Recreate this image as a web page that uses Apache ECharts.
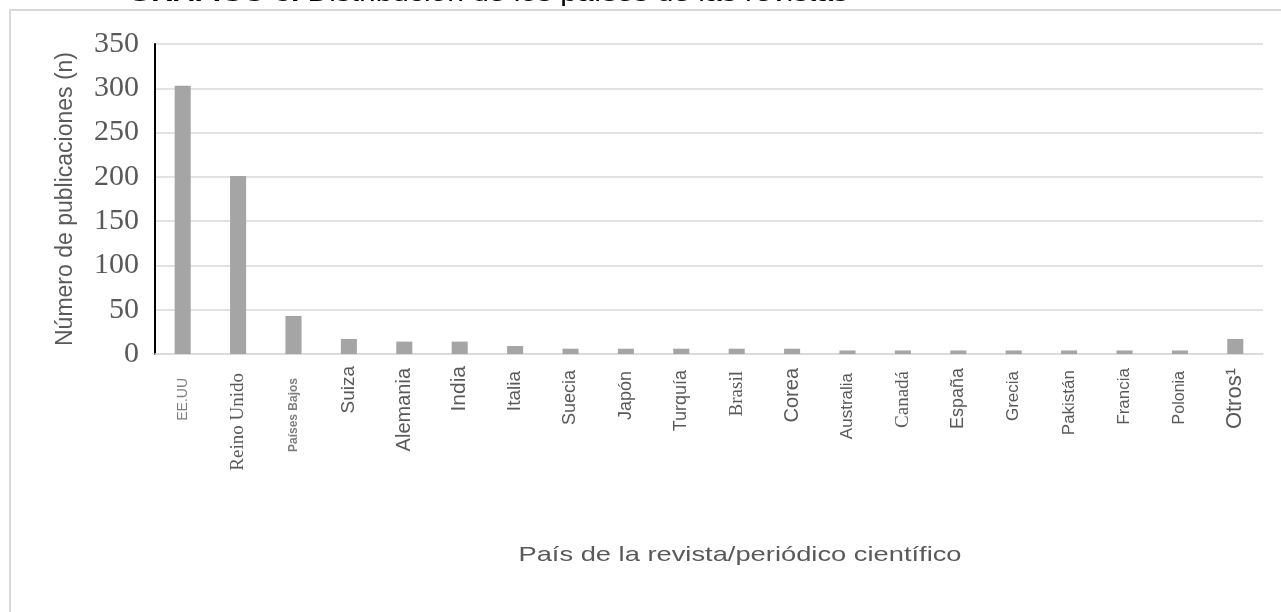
<!DOCTYPE html>
<html>
<head>
<meta charset="utf-8">
<script src="https://cdn.jsdelivr.net/npm/echarts@6/dist/echarts.min.js"></script>
<style>
html,body{margin:0;padding:0;background:#fff;}
#chart{width:1281px;height:612px;}
</style>
</head>
<body>
<div id="chart"></div>
<script>
const categories = ["EE.UU","Reino Unido","Países Bajos","Suiza","Alemania","India","Italia","Suecia","Japón","Turquía","Brasil","Corea","Australia","Canadá","España","Grecia","Pakistán","Francia","Polonia","Otros¹"];
const publicaciones = [303, 201, 43, 17, 14, 14, 9, 6, 6, 6, 6, 6, 4, 4, 4, 4, 4, 4, 4, 17];
const yTicks = [0, 50, 100, 150, 200, 250, 300, 350];
const titleText = "GRÁFICO 3.";
const titleRest = " Distribución de los países de las revistas";
const xAxisTitle = "País de la revista/periódico científico";
const yAxisTitle = "Número de publicaciones (n)";

const sans = "'Liberation Sans', Arial, sans-serif";
const serif = "'Liberation Serif', 'Times New Roman', serif";
// per-label styles [font, size, color, weight, extra gap]
const labelStyles = [
  [sans, 14, '#7f7f7f', 'normal', 12],
  [serif, 19, '#595959', 'normal', 7],
  [sans, 12, '#7f7f7f', 'bold', 12],
  [sans, 19, '#595959', 'normal', 0],
  [sans, 20, '#595959', 'normal', 2],
  [sans, 21, '#595959', 'normal', 0],
  [sans, 19, '#595959', 'normal', 5],
  [sans, 18, '#595959', 'normal', 4],
  [sans, 18, '#595959', 'normal', 5],
  [sans, 18, '#595959', 'normal', 4],
  [serif, 19, '#595959', 'normal', 5],
  [sans, 20, '#595959', 'normal', 2],
  [sans, 17, '#595959', 'normal', 7],
  [serif, 19, '#595959', 'normal', 5],
  [sans, 18, '#595959', 'normal', 2],
  [sans, 17, '#595959', 'normal', 5],
  [sans, 17, '#595959', 'normal', 4],
  [sans, 17, '#595959', 'normal', 2],
  [sans, 16, '#595959', 'normal', 5],
  [sans, 22, '#595959', 'normal', 2]
];
const rich = {};
labelStyles.forEach((s, i) => {
  rich['k' + i] = {fontFamily: s[0], fontSize: s[1], color: s[2], fontWeight: s[3], padding: [0, s[4], 0, 0]};
});

const chart = echarts.init(document.getElementById('chart'), null, {renderer: 'canvas'});
chart.setOption({
  animation: false,
  backgroundColor: '#ffffff',
  grid: {left: 155, right: 18, top: 44, bottom: 258, containLabel: false},
  xAxis: {
    type: 'category',
    data: categories,
    axisLine: {show: true, lineStyle: {color: '#d9d9d9', width: 1.5}},
    axisTick: {show: false},
    axisLabel: {
      interval: 0,
      rotate: 90,
      margin: 12,
      formatter: function (v, i) { return '{k' + i + '|' + v + '}'; },
      rich: rich
    }
  },
  yAxis: {
    type: 'value',
    min: yTicks[0],
    max: yTicks[yTicks.length - 1],
    interval: yTicks[1] - yTicks[0],
    name: yAxisTitle,
    nameLocation: 'middle',
    nameGap: 78,
    nameRotate: 90,
    nameTextStyle: {fontFamily: sans, fontSize: 23, color: '#595959'},
    axisLine: {show: true, lineStyle: {color: '#000000', width: 2}},
    axisTick: {show: false},
    axisLabel: {fontFamily: serif, fontSize: 30, color: '#595959', margin: 16},
    splitLine: {lineStyle: {color: '#d9d9d9', width: 1.5}}
  },
  series: [{
    type: 'bar',
    data: publicaciones,
    barWidth: '29%',
    itemStyle: {color: '#a5a5a5'}
  }],
  graphic: [
    {
      type: 'rect',
      shape: {x: 10, y: 10, width: 1400, height: 800},
      style: {fill: 'none', stroke: '#d9d9d9', lineWidth: 2},
      silent: true
    },
    {
      type: 'text',
      x: 740, y: 545,
      scaleX: 1.3,
      style: {text: xAxisTitle, fontFamily: sans, fontSize: 21, fill: '#595959', textAlign: 'center', textVerticalAlign: 'top'}
    },
    {
      type: 'text',
      x: 128, y: 6,
      scaleX: 1.36,
      style: {
        text: '{b|' + titleText + '}{r|' + titleRest + '}',
        textVerticalAlign: 'bottom',
        rich: {
          b: {fontFamily: sans, fontSize: 22, fontWeight: 'bold', fill: '#000'},
          r: {fontFamily: sans, fontSize: 22, fill: '#000'}
        }
      }
    }
  ]
});
</script>
</body>
</html>
